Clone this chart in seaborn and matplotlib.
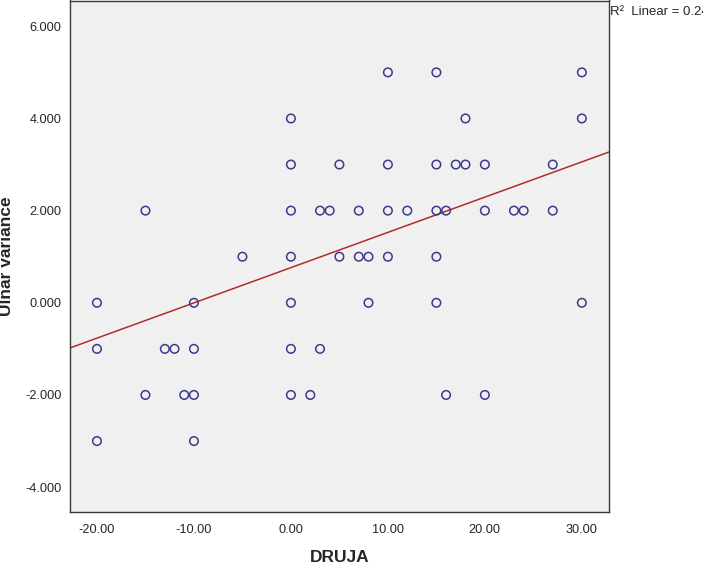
import numpy as np
import pandas as pd
import seaborn as sns
from matplotlib import pyplot as plt
from matplotlib import ticker as mtick

# DRUJA values, grouped by ulnar variance row (top row first)
druja = [10, 15, 30,
         0, 18, 30,
         0, 5, 10, 15, 17, 18, 20, 27,
         -15, 0, 3, 4, 7, 10, 12, 15, 16, 20, 23, 24, 27,
         -5, 0, 5, 7, 8, 10, 15,
         -20, -10, 0, 8, 15, 30,
         -20, -13, -12, -10, 0, 3,
         -15, -11, -10, 0, 2, 16, 20,
         -20, -10]
ulnar = [5, 5, 5,
         4, 4, 4,
         3, 3, 3, 3, 3, 3, 3, 3,
         2, 2, 2, 2, 2, 2, 2, 2, 2, 2, 2, 2, 2,
         1, 1, 1, 1, 1, 1, 1,
         0, 0, 0, 0, 0, 0,
         -1, -1, -1, -1, -1, -1,
         -2, -2, -2, -2, -2, -2, -2,
         -3, -3]

# linear fit as reported on the chart (overlapping points hide some cases)
fit_intercept = 0.763
fit_slope = 0.0765
r2_linear = 0.242

xticks = [-20, -10, 0, 10, 20, 30]
yticks = [-4, -2, 0, 2, 4, 6]

df = pd.DataFrame({'DRUJA': druja, 'Ulnar variance': ulnar})

sns.set_style('white')
plt.rcParams['font.family'] = ['Liberation Sans', 'DejaVu Sans']

fig = plt.figure(figsize=(7.03, 5.63), dpi=100)
# plot box: x 70..609 px, y 0.5..512 px
ax = fig.add_axes([70 / 703, 51 / 563, 539 / 703, 511.5 / 563])
ax.set_facecolor('#f0f0f0')

xlim = (-22.78, 32.8)
ax.set_xlim(*xlim)
ax.set_ylim(-4.54, 6.56)

sns.scatterplot(data=df, x='DRUJA', y='Ulnar variance', ax=ax, marker='o', s=38,
                facecolor='none', edgecolor='#3b3b8a', linewidth=1.1, zorder=3)

# fit line across the whole x range
fit = pd.DataFrame({'x': list(xlim)})
fit['y'] = fit_intercept + fit_slope * fit['x']
sns.lineplot(data=fit, x='x', y='y', ax=ax, color='#b22c2c', lw=1.1, zorder=2)

ax.set_xticks(xticks)
ax.set_yticks(yticks)
ax.xaxis.set_major_formatter(mtick.FormatStrFormatter('%.2f'))
ax.yaxis.set_major_formatter(mtick.FormatStrFormatter('%.3f'))
ax.tick_params(axis='both', direction='out', length=5.8, width=1.3, color='black',
               labelsize=9.2, pad=0.5)
ax.tick_params(axis='x', pad=3)
for s in ax.spines.values():
    s.set_color('#3a3a3a')
    s.set_linewidth(1.0)

ax.set_xlabel('DRUJA', fontsize=12.5, fontweight='bold', labelpad=10)
ax.set_ylabel('Ulnar variance', fontsize=12.5, fontweight='bold', labelpad=8)

fig.text(610 / 703, 1 - 12 / 563, 'R²  Linear = {:.3f}'.format(r2_linear),
         fontsize=9.5, va='center', ha='left')

fig.savefig('out.png', dpi=100)
